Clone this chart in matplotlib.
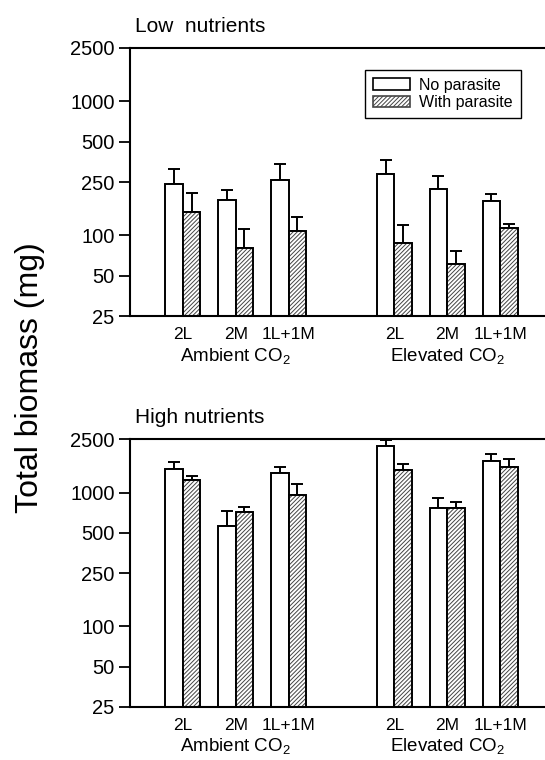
import numpy as np
import matplotlib.pyplot as plt
from matplotlib.patches import Patch
import matplotlib.transforms as mtransforms

plt.rcParams['font.family'] = ['Liberation Sans', 'DejaVu Sans']
plt.rcParams['mathtext.fontset'] = 'custom'
plt.rcParams['mathtext.rm'] = 'Liberation Sans'
plt.rcParams['hatch.linewidth'] = 0.7

categories = ["2L", "2M", "1L+1M", "2L", "2M", "1L+1M"]
groups = ["Ambient CO$_2$", "Elevated CO$_2$"]
yticks = [25, 50, 100, 250, 500, 1000, 2500]

# low nutrients: means and upper error bar tops (mg)
low_no = [240, 185, 261, 286, 221, 180]
low_no_top = [311, 218, 343, 366, 279, 204]
low_par = [149, 80, 108, 88, 61, 113]
low_par_top = [208, 111, 136, 119, 77, 122]

# high nutrients
high_no = [1500, 565, 1393, 2217, 762, 1711]
high_no_top = [1683, 728, 1561, 2472, 905, 1941]
high_par = [1247, 711, 963, 1482, 765, 1561]
high_par_top = [1336, 780, 1158, 1643, 849, 1791]

xpos = np.array([1, 2, 3, 5, 6, 7])
w = 0.33
HATCH_COL = "#444444"
HATCH = "////////"


def draw_panel(ax, no_par, no_top, par, par_top, title, legend=False):
    no_par = np.array(no_par)
    par = np.array(par)
    ax.bar(xpos - w / 2, no_par, w, bottom=0.001, color="white",
           edgecolor="black", linewidth=1.4, zorder=2)
    ax.bar(xpos + w / 2, par, w, bottom=0.001, color="white",
           edgecolor=HATCH_COL, hatch=HATCH, linewidth=0, zorder=2)
    ax.bar(xpos + w / 2, par, w, bottom=0.001, fill=False,
           edgecolor="black", linewidth=1.4, zorder=3)
    ax.errorbar(xpos - w / 2, no_par,
                yerr=[np.zeros(6), np.array(no_top) - no_par],
                fmt="none", ecolor="black", elinewidth=1.4, capsize=4,
                capthick=1.4, zorder=1)
    ax.errorbar(xpos + w / 2, par,
                yerr=[np.zeros(6), np.array(par_top) - par],
                fmt="none", ecolor="black", elinewidth=1.4, capsize=4,
                capthick=1.4, zorder=1)

    ax.set_yscale("log")
    ax.set_ylim(25, 2500)
    ax.set_xlim(0, 7.85)
    ax.set_yticks(yticks)
    ax.set_yticklabels([str(t) for t in yticks], fontsize=14.5)
    ax.yaxis.set_minor_locator(plt.NullLocator())
    ax.tick_params(axis="y", direction="out", length=8, width=1.3, pad=3)
    ax.set_xticks(xpos)
    ax.set_xticklabels(categories, fontsize=12.5)
    ax.tick_params(axis="x", length=0, pad=8)
    ax.spines["right"].set_visible(False)
    for s in ["left", "bottom", "top"]:
        ax.spines[s].set_linewidth(1.5)

    trans = mtransforms.blended_transform_factory(ax.transData, ax.transAxes)
    ax.text(2, -0.112, groups[0], transform=trans, ha="center", va="top",
            fontsize=13.5)
    ax.text(6, -0.112, groups[1], transform=trans, ha="center", va="top",
            fontsize=13.5)
    ax.text(0.012, 1.045, title, transform=ax.transAxes, ha="left",
            va="bottom", fontsize=15)

    if legend:
        handles = [Patch(facecolor="white", edgecolor="black", linewidth=1.2),
                   Patch(facecolor="white", edgecolor=HATCH_COL,
                         hatch=HATCH, linewidth=1.2)]
        leg = ax.legend(handles, ["No parasite", "With parasite"],
                        loc="upper right", bbox_to_anchor=(0.961, 0.948),
                        fontsize=11.5, fancybox=False, framealpha=1,
                        edgecolor="black", handlelength=2.3,
                        handleheight=0.75, borderpad=0.5,
                        labelspacing=0.15, handletextpad=0.6)
        leg.get_frame().set_linewidth(1.0)


fig = plt.figure(figsize=(5.45, 7.6), dpi=100)
ax1 = fig.add_axes([0.2385, 0.584, 0.7615, 0.353])
ax2 = fig.add_axes([0.2385, 0.070, 0.7615, 0.352])

draw_panel(ax1, low_no, low_no_top, low_par, low_par_top,
           "Low  nutrients", legend=True)
draw_panel(ax2, high_no, high_no_top, high_par, high_par_top,
           "High nutrients")

fig.text(0.055, 0.503, "Total biomass (mg)", rotation=90, ha="center",
         va="center", fontsize=23)

fig.savefig("out.png", dpi=100)
